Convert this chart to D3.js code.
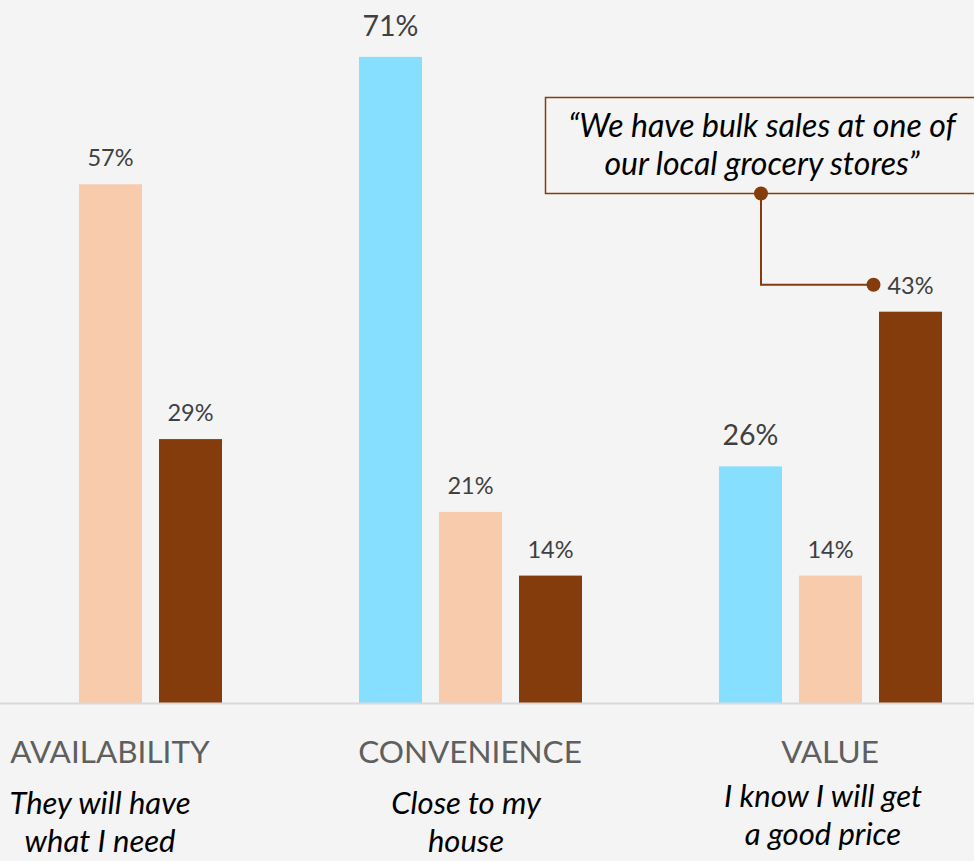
<!DOCTYPE html>
<html>
<head>
<meta charset="utf-8">
<script src="https://cdn.jsdelivr.net/npm/d3@7"></script>
<style>
  html, body { margin: 0; padding: 0; background: #f4f4f4; }
  svg { display: block; }
  text { font-family: Lato, "Open Sans", sans-serif; }
</style>
</head>
<body>
<svg id="chart" width="974" height="861"></svg>
<script>
// Reasons for shopping, share of respondents (%) per series
const categories = ["AVAILABILITY", "CONVENIENCE", "VALUE"];
const subtitles = [["They will have", "what I need"], ["Close to my", "house"], ["I know I will get", "a good price"]];
const seriesNames = ["s1", "s2", "s3"];
const series1 = [null, 71, 26];
const series2 = [57, 21, 14];
const series3 = [29, 14, 43];
const quoteLines = ["\u201CWe have bulk sales at one of", "our local grocery stores\u201D"];

const colors = { s1: "#87dfff", s2: "#f8cbad", s3: "#843c0c" };
const seriesValues = { s1: series1, s2: series2, s3: series3 };

const W = 974, H = 861, baseY = 703;
const svg = d3.select("#chart");
svg.append("rect").attr("width", W).attr("height", H).attr("fill", "#f4f4f4");

const x0 = d3.scaleBand().domain(categories).range([-70, 1010]).padding(0);
const x1 = d3.scaleBand().domain(seriesNames).range([69, 292]).paddingInner(17 / 80).paddingOuter(0);
const y = d3.scaleLinear().domain([0, 77.25]).range([baseY, 0]);

const rows = [];
categories.forEach((c, i) => {
  seriesNames.forEach(s => {
    const v = seriesValues[s][i];
    if (v != null) rows.push({ cat: c, s, v, i });
  });
});

// bars
svg.append("g").selectAll("rect").data(rows).join("rect")
  .attr("x", d => x0(d.cat) + x1(d.s))
  .attr("y", d => y(d.v))
  .attr("width", x1.bandwidth())
  .attr("height", d => y(0) - y(d.v))
  .attr("fill", d => colors[d.s]);

// baseline axis
const xAxis = d3.axisBottom(x0).tickSize(0).tickFormat("");
const axisG = svg.append("g").attr("transform", `translate(0,${baseY + 0.5})`).call(xAxis);
axisG.select(".domain").attr("stroke", "#d9d9d9").attr("stroke-width", 2).attr("d", `M0,0H${W}`);

// value labels
const big = d => d.s === "s1";
svg.append("g").selectAll("text").data(rows).join("text")
  .attr("x", d => x0(d.cat) + x1(d.s) + x1.bandwidth() / 2)
  .attr("y", d => y(d.v) - (big(d) ? 21 : 18))
  .attr("text-anchor", "middle")
  .attr("fill", "#404040")
  .attr("font-size", d => big(d) ? 28.5 : 23.5)
  .text(d => d.v + "%");

// category labels
const center = c => x0(c) + x0.bandwidth() / 2;
svg.append("g").selectAll("text").data(categories).join("text")
  .attr("x", c => center(c))
  .attr("y", 763)
  .attr("text-anchor", "middle")
  .attr("fill", "#5f5f5f")
  .attr("font-size", 31.5)
  .text(c => c);

// italic subtitles, set slightly left of each group centre
const subShift = [-10, -4, -7];
const sub = svg.append("g");
categories.forEach((c, i) => {
  subtitles[i].forEach((line, k) => {
    sub.append("text")
      .attr("x", center(c) + subShift[i])
      .attr("y", (i === 2 ? 807 : 814) + k * 38)
      .attr("text-anchor", "middle")
      .attr("fill", "#000")
      .attr("font-style", "italic")
      .attr("font-size", 31)
      .text(line);
  });
});

// callout for the VALUE / series 3 bar
const brown = colors.s3;
const target = rows.find(d => d.cat === "VALUE" && d.s === "s3");
const tx = x0(target.cat) + x1(target.s) + x1.bandwidth() / 2;
const labelY = y(target.v) - 27;
const box = { x: 545.5, y: 97.5, w: 440, h: 96 };
const dotA = { x: 761, y: box.y + box.h };
const dotB = { x: tx - 37, y: labelY };

svg.append("rect")
  .attr("x", box.x).attr("y", box.y).attr("width", box.w).attr("height", box.h)
  .attr("fill", "none").attr("stroke", brown).attr("stroke-width", 1.5);

svg.append("path")
  .attr("d", `M${dotA.x},${dotA.y}V${dotB.y}H${dotB.x}`)
  .attr("fill", "none").attr("stroke", brown).attr("stroke-width", 2);

svg.selectAll("circle.dot").data([dotA, dotB]).join("circle")
  .attr("class", "dot")
  .attr("cx", d => d.x).attr("cy", d => d.y).attr("r", 7)
  .attr("fill", brown);

svg.append("g").selectAll("text").data(quoteLines).join("text")
  .attr("x", 762)
  .attr("y", (d, k) => 137 + k * 38)
  .attr("text-anchor", "middle")
  .attr("fill", "#000")
  .attr("font-style", "italic")
  .attr("font-size", 32)
  .text(d => d);
</script>
</body>
</html>
